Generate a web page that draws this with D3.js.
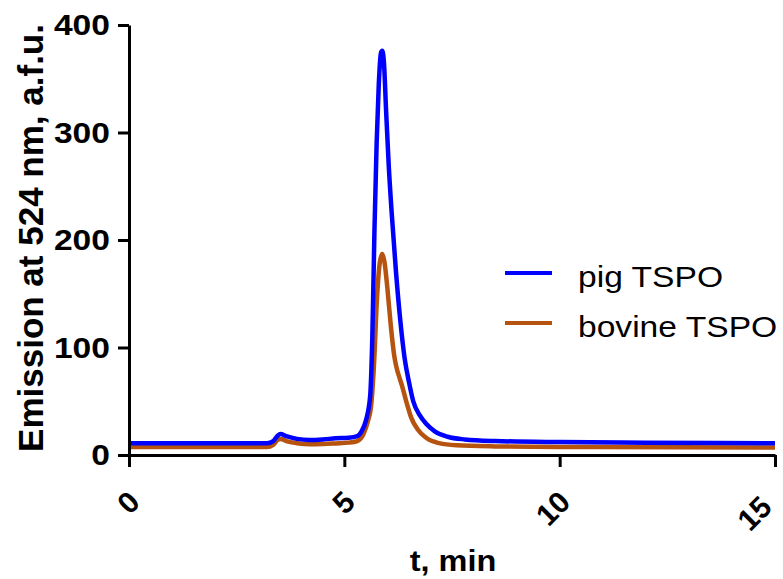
<!DOCTYPE html>
<html>
<head>
<meta charset="utf-8">
<script src="https://cdn.jsdelivr.net/npm/d3@7"></script>
<style>
  body { margin: 0; background: #fff; }
  svg { display: block; font-family: "Liberation Sans", Arial, sans-serif; }
</style>
</head>
<body>
<div id="chart"></div>
<script>
// chromatogram (t in min, emission in a.f.u.)
const pigT = [0, 3.2, 3.35, 3.45, 3.52, 3.65, 3.9, 4.2, 4.5, 4.8, 5.1, 5.3, 5.4, 5.5, 5.6, 5.65, 5.7, 5.75, 5.8, 5.85, 5.88, 5.92, 5.97, 6.03, 6.1, 6.2, 6.3, 6.4, 6.5, 6.6, 6.75, 6.9, 7.1, 7.4, 7.8, 8.5, 10, 12, 15];
const pigY = [11, 11, 13, 18, 19.5, 17.5, 15, 14, 14.5, 15.5, 16, 17.5, 22, 32, 55, 110, 210, 290, 345, 374, 376, 365, 320, 270, 225, 170, 125, 90, 68, 50, 37, 29, 22, 17, 14.5, 13, 12, 11.5, 11];

const bovT = [0, 3.2, 3.35, 3.45, 3.52, 3.65, 3.9, 4.2, 4.5, 4.8, 5.1, 5.3, 5.45, 5.55, 5.62, 5.69, 5.76, 5.82, 5.88, 5.93, 6.0, 6.08, 6.16, 6.22, 6.28, 6.35, 6.45, 6.55, 6.7, 6.9, 7.2, 7.6, 8.5, 10, 15];
const bovY = [7.5, 7.5, 9.5, 14, 15, 13, 11, 10, 10.2, 10.8, 11.5, 13, 20, 32, 45, 85, 147, 178, 187, 180, 155, 120, 92, 80, 72, 63, 48, 35, 24, 16, 11, 9, 8, 7.5, 7];

const seriesNames = ["pig TSPO", "bovine TSPO"];
const seriesColors = ["#0000ff", "#b5530f"];
const xTicks = [0, 5, 10, 15];
const yTicks = [0, 100, 200, 300, 400];

const width = 783, height = 579;
const stretch = 1.12; // text in the picture is a bit wide

const svg = d3.select("#chart").append("svg")
    .attr("width", width)
    .attr("height", height);

const x = d3.scaleLinear().domain([0, 15]).range([129, 775]);
const y = d3.scaleLinear().domain([0, 400]).range([455, 25]);

const toPts = (ts, vs) => ts.map((t, i) => ({ t: t, v: vs[i] }));
const series = [toPts(pigT, pigY), toPts(bovT, bovY)];

const line = d3.line()
    .x(d => x(d.t))
    .y(d => y(d.v))
    .curve(d3.curveMonotoneX);

// bovine under, pig on top
[1, 0].forEach(i => {
    svg.append("path")
        .datum(series[i])
        .attr("fill", "none")
        .attr("stroke", seriesColors[i])
        .attr("stroke-width", 4.5)
        .attr("stroke-linejoin", "round")
        .attr("d", line);
});

// axes
const yAxis = svg.append("g")
    .attr("transform", `translate(${x(0)},0)`)
    .call(d3.axisLeft(y).tickValues(yTicks).tickSize(11).tickSizeOuter(0).tickPadding(8));

const xAxis = svg.append("g")
    .attr("transform", `translate(0,${y(0)})`)
    .call(d3.axisBottom(x).tickValues(xTicks).tickSize(12).tickSizeOuter(0));

[yAxis, xAxis].forEach(g => {
    g.select(".domain").attr("stroke", "#000").attr("stroke-width", 3);
    g.selectAll(".tick line").attr("stroke", "#000").attr("stroke-width", 3);
});

yAxis.selectAll(".tick text")
    .attr("fill", "#000")
    .style("font-size", "30px")
    .style("font-weight", "bold")
    .attr("transform", function() {
        const xx = +d3.select(this).attr("x");
        return `translate(${xx},0) scale(${stretch},1) translate(${-xx},0)`;
    });

// last label pulled in a little so it stays inside the page
xAxis.selectAll(".tick text")
    .attr("fill", "#000")
    .style("font-size", "30px")
    .style("font-weight", "bold")
    .attr("text-anchor", "end")
    .attr("x", null).attr("y", null).attr("dy", null)
    .attr("transform", d => d === 15 ? "translate(-2,54) rotate(-45)" : "translate(12,49) rotate(-45)");

// axis titles
svg.append("text")
    .attr("transform", `translate(43,238) rotate(-90)`)
    .attr("text-anchor", "middle")
    .style("font-size", "35px")
    .style("font-weight", "bold")
    .text("Emission at 524 nm, a.f.u.");

svg.append("text")
    .attr("transform", `translate(453,571) scale(${stretch},1)`)
    .attr("text-anchor", "middle")
    .style("font-size", "29px")
    .style("font-weight", "bold")
    .text("t, min");

// legend
const legend = svg.append("g");
seriesNames.forEach((name, i) => {
    const ly = 273 + i * 50;
    legend.append("line")
        .attr("x1", 505).attr("x2", 552)
        .attr("y1", ly).attr("y2", ly)
        .attr("stroke", seriesColors[i])
        .attr("stroke-width", 4);
    legend.append("text")
        .attr("transform", `translate(578,${ly + 14}) scale(${stretch},1)`)
        .style("font-size", "30px")
        .text(name);
});
</script>
</body>
</html>
